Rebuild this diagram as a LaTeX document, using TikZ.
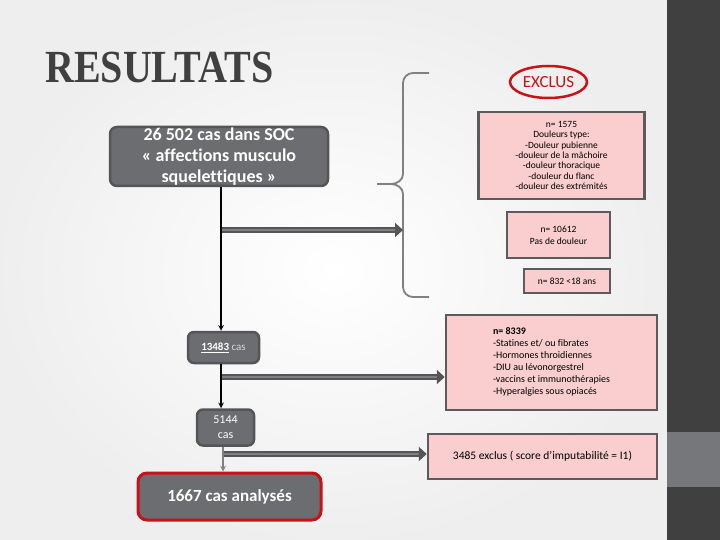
\documentclass[tikz,border=0pt]{standalone}
\usepackage{graphicx}
\usepackage{fontspec}
\setmainfont{Carlito}[Ligatures=CommonOff]
\newfontfamily\titlefont{Liberation Serif}
\usetikzlibrary{arrows.meta,shapes.geometric}
\definecolor{boxgray}{RGB}{108,109,112}
\definecolor{boxline}{RGB}{85,85,88}
\definecolor{pinkfill}{RGB}{250,206,206}
\definecolor{pinkline}{RGB}{92,90,92}
\definecolor{redline}{RGB}{200,18,24}
\definecolor{bardark}{RGB}{64,64,64}
\definecolor{barlight}{RGB}{118,119,122}
\definecolor{fatfill}{RGB}{128,128,130}
\definecolor{titlegray}{RGB}{64,64,64}
\definecolor{bracegray}{RGB}{128,128,128}
\definecolor{caslight}{RGB}{215,215,218}

\begin{document}
\begin{tikzpicture}[x=1pt,y=-1pt,>=stealth,
  graybox/.style={draw=boxline,fill=boxgray,line width=2.5pt,rounded corners=7pt,text=white,inner sep=0pt,align=center},
  pinkbox/.style={draw=pinkline,fill=pinkfill,line width=2.5pt,inner sep=0pt,align=center},
  fat/.style={draw=boxline,double=fatfill,double distance=2.5pt,line width=2pt,-{Triangle[length=8pt,width=14pt]}}]
  \useasboundingbox (0,0) rectangle (720,540);
  \shade[inner color=white,outer color=gray!13] (0,0) rectangle (667,540);
  \fill[bardark] (667,0) rectangle (720,540);
  \fill[barlight] (667,432) rectangle (720,487);

  \node[anchor=base west,inner sep=0pt,text=titlegray,font=\titlefont\bfseries\fontsize{46}{50}\selectfont] (title) at (45,83) {\scalebox{0.87}[1]{RESULTATS}};

  % left column
  \node[graybox,minimum width=218pt,minimum height=59pt,font=\fontsize{18}{21}\selectfont\bfseries] (soc) at (219,156.5) {26 502 cas dans SOC\\« affections musculo\\squelettiques »};
  \node[graybox,rounded corners=6pt,minimum width=71pt,minimum height=31pt,font=\fontsize{11}{13}\selectfont] (c13483) at (223.5,347.5) {\underline{\textbf{13483}} {\color{caslight}cas}};
  \node[graybox,rounded corners=6pt,minimum width=57pt,minimum height=36pt,font=\fontsize{12}{15}\selectfont] (c5144) at (225.5,427.5) {5144\\cas};
  \node[graybox,draw=redline,line width=3pt,rounded corners=9pt,minimum width=183pt,minimum height=47pt,font=\fontsize{17}{20}\selectfont\bfseries] (final) at (229.5,496.5) {1667 cas analysés};

  % exclusions
  \node[ellipse,draw=redline,line width=2.5pt,minimum width=77pt,minimum height=32pt,inner sep=0pt,text=redline,font=\fontsize{17}{20}\selectfont] (excl) at (548.5,82) {EXCLUS};
  \node[pinkbox,minimum width=166pt,minimum height=87pt,font=\fontsize{9.5}{10.3}\selectfont] (c1575) at (561.5,155.5) {n= 1575\\Douleurs type:\\-Douleur pubienne\\-douleur de la mâchoire\\-douleur thoracique\\-douleur du flanc\\-douleur des extrémités};
  \node[pinkbox,minimum width=103pt,minimum height=46pt,font=\fontsize{9.5}{12}\selectfont] (c10612) at (558.5,235) {n= 10612\\Pas de douleur};
  \node[pinkbox,minimum width=86pt,minimum height=24pt,font=\fontsize{9.5}{12}\selectfont] (c832) at (567,281) {n= 832 <18 ans};
  \node[pinkbox,minimum width=211pt,minimum height=95pt,font=\fontsize{10}{12}\selectfont] (c8339) at (551.5,362.5) {\begin{tabular}{@{}l@{}}\textbf{n= 8339}\\-Statines et/ ou fibrates\\-Hormones throidiennes\\-DIU au lévonorgestrel\\-vaccins et immunothérapies\\-Hyperalgies sous opiacés\end{tabular}};
  \node[pinkbox,minimum width=229pt,minimum height=45pt,font=\fontsize{11.5}{14}\selectfont] (c3485) at (542.5,456.5) {3485 exclus ( score d’imputabilité = I1)};

  % brace
  \draw[bracegray,line width=1.8pt] (429,73) -- (413,73) to[out=180,in=90] (403,83) -- (403,174) to[out=-90,in=0] (391,184) -- (377,184)
    (377,184) -- (391,184) to[out=0,in=90] (403,194) -- (403,287) to[out=-90,in=180] (413,297) -- (429,297);

  \coordinate (t1) at (221,230);
  \coordinate (t2) at (222,377);
  \coordinate (t3) at (223,454);
  \coordinate (brace) at (403,230);

  \draw[fat] (t1) -- (brace);
  \draw[fat] (t2) -- (t2 -| c8339.west);
  \draw[fat] (t3) -- (t3 -| c3485.west);

  \draw[->,line width=1.5pt] (soc.south -| t1) -- (c13483.north -| t1);
  \draw[->,line width=1.5pt] (c13483.south -| t1) -- (c5144.north -| t1);
  \draw[->,draw=bracegray,line width=1.5pt] (c5144.south -| t3) -- (final.north -| t3);
\end{tikzpicture}
\end{document}
